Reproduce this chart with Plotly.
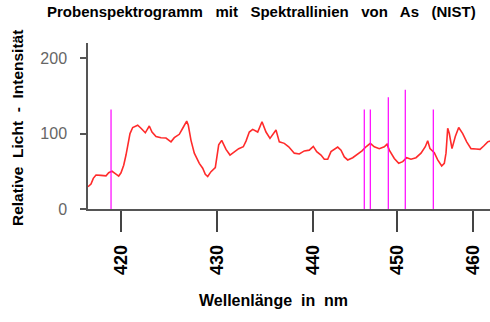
import numpy as np
import plotly.graph_objects as go

# Spectrometer calibration: wavelength (nm) of tick labels and detector channel
tick_nm = [420, 430, 440, 450, 460]
tick_channel = [32.7, 129.3, 224.7, 308.7, 385.3]

# Measured sample spectrum (detector channel, relative intensity)
spec_channel = [0, 3, 5.3, 8, 13, 18, 20.7, 24, 27.3, 30.7, 33, 35.7, 38, 40, 42, 44.7,
                49.7, 53, 57.3, 61.3, 64, 68, 73, 78, 83, 86.3, 91.3, 94.7, 98.7, 100.3,
                103, 106.3, 111.3, 114.7, 117.3, 119.7, 123, 127.3, 130.7, 133.7, 138,
                142, 146.3, 150.7, 155.3, 158, 161.3, 164.7, 169.7, 174, 178, 182, 188,
                191.3, 196.3, 200.7, 206.3, 211.3, 216.3, 221.3, 225.3, 228.7, 233, 236.3,
                239.7, 243, 249.7, 253, 256.3, 259.7, 264.7, 269.7, 274, 278, 282.3, 286.3,
                291.3, 296.3, 299, 301.3, 306.3, 310.7, 314.7, 318.7, 323, 328, 333, 337.3,
                339.7, 342, 346.3, 349.7, 353.7, 356.3, 358, 359.7, 361.3, 364, 367.3,
                370.7, 374.7, 378.7, 383, 388, 392, 395.7, 399.7, 402]
spec_value = [29.5, 33, 40.6, 45, 44.6, 44, 48, 50, 47, 43.7, 48, 58, 71.5, 85, 100, 108,
              111, 107, 101, 110, 102, 96, 94.5, 94, 89, 94.5, 99, 107, 116.5, 111,
              91, 74, 60.5, 54, 46, 43, 49.5, 55, 85, 91, 79,
              71.5, 76, 80, 82.5, 90, 102, 105.5, 102, 115.6, 102, 93.6, 104.6,
              89, 87, 82.5, 74, 73, 77, 78, 83, 76, 71.5, 66,
              66, 76, 82, 78, 69, 65, 68, 73, 77, 82.5, 87, 82.5,
              80, 82.5, 86, 78, 67, 60.5, 62.7, 68, 66, 68, 74, 82.5,
              90.5, 80, 74.6, 65, 57, 60.5, 74, 107, 100, 80, 96,
              108, 100, 89, 80, 79.5, 79, 83.5, 89, 90]

# NIST As spectral lines (nm) and relative intensity
line_nm = [419.0, 446.14, 446.86, 449.0, 451.12, 454.78]
line_value = [132, 132, 132, 148, 158, 132]


def nm_to_channel(nm):
    # piecewise-linear calibration with linear extrapolation at the ends
    x = np.asarray(tick_nm, float)
    c = np.asarray(tick_channel, float)
    out = np.interp(nm, x, c)
    if nm < x[0]:
        out = c[0] + (nm - x[0]) * (c[1] - c[0]) / (x[1] - x[0])
    elif nm > x[-1]:
        out = c[-1] + (nm - x[-1]) * (c[-1] - c[-2]) / (x[-1] - x[-2])
    return float(out)


lx, ly = [], []
for nm, v in zip(line_nm, line_value):
    ch = nm_to_channel(nm)
    lx += [ch, ch, None]
    ly += [0, v, None]

fig = go.Figure()
fig.add_trace(go.Scatter(x=spec_channel, y=spec_value, mode="lines",
                         line=dict(color="#ff2b2b", width=1.6), hoverinfo="skip"))
fig.add_trace(go.Scatter(x=lx, y=ly, mode="lines",
                         line=dict(color="#ff00ff", width=1.2), hoverinfo="skip"))

font = "Liberation Sans, Arial, sans-serif"
fig.update_layout(
    width=490, height=322,
    margin=dict(l=88, r=0, t=43, b=113),
    paper_bgcolor="white", plot_bgcolor="white",
    showlegend=False,
    font=dict(family=font, color="black"),
    xaxis=dict(range=[0, 402], showgrid=False, zeroline=False,
               showline=True, linecolor="#555", linewidth=1.5,
               tickmode="array", tickvals=tick_channel, ticktext=[str(t) for t in tick_nm],
               ticks="outside", ticklen=21, tickwidth=2, tickcolor="#444",
               tickangle=-90, ticklabelstandoff=6,
               tickfont=dict(family=font, size=18, color="black", weight="bold")),
    yaxis=dict(range=[0, 220], showgrid=False, zeroline=False,
               showline=True, linecolor="#555", linewidth=1.5,
               tickvals=[0, 100, 200], ticks="outside", ticklen=6, tickwidth=1.5,
               tickcolor="#555", ticklabelstandoff=10,
               tickfont=dict(family=font, size=16, color="#666")),
    annotations=[
        dict(text="<b>Probenspektrogramm   mit   Spektrallinien   von   As   (NIST)</b>",
             x=261, y=12, xref="paper", yref="paper", showarrow=False,
             font=dict(family=font, size=15, color="black")),
        dict(text="<b>Relative  Licht  -  Intensität</b>", textangle=-90,
             x=18, y=128, showarrow=False,
             font=dict(family=font, size=15.5, color="black")),
        dict(text="<b>Wellenlänge  in  nm</b>",
             x=273, y=300, showarrow=False,
             font=dict(family=font, size=16, color="black")),
    ],
)

# place annotations in pixel coordinates
W, H = 490, 322
pl, pr, pt, pb = 88, 0, 43, 113
pw, ph = W - pl - pr, H - pt - pb
for a in fig.layout.annotations:
    px, py = a.x, a.y
    a.xref = "paper"
    a.yref = "paper"
    a.x = (px - pl) / pw
    a.y = (H - pb - py) / ph
    a.xanchor = "center"
    a.yanchor = "middle"

fig.write_html("out.html")
